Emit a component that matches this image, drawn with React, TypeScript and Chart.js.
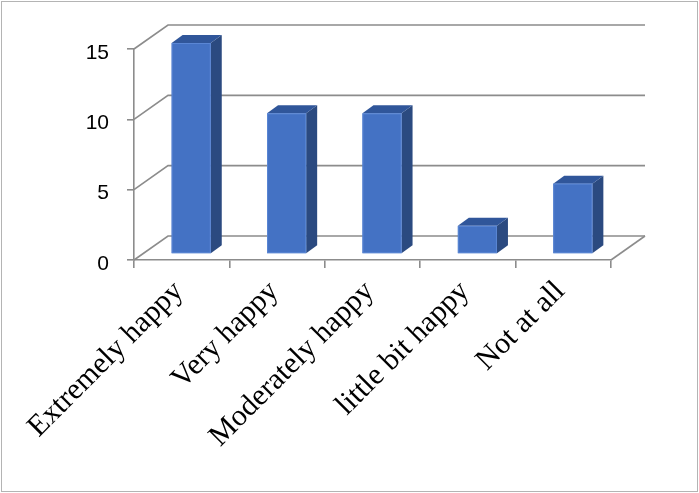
import React, { useEffect, useRef } from "react";
import { Chart, registerables } from "chart.js";

Chart.register(...registerables);

const categories = ["Extremely happy", "Very happy", "Moderately happy", "little bit happy", "Not at all"];
const values = [15, 10, 10, 2, 5];
const yTicks = [0, 5, 10, 15];

const WALL_DX = 34;
const WALL_DY = -24;
const FRONT_DX = 9.5;
const FRONT_DY = -6;
const BAR_DX = 11;
const BAR_DY = -8;
const GRID = "#8c8c8c";

const threeD = {
  id: "threeD",
  beforeDraw(chart: any) {
    const ctx = chart.ctx;
    ctx.save();
    ctx.fillStyle = "#ffffff";
    ctx.fillRect(0, 0, chart.width, chart.height);
    ctx.strokeStyle = "#b4b4b4";
    ctx.lineWidth = 1;
    ctx.strokeRect(1.5, 1.5, chart.width - 3, chart.height - 3);
    ctx.restore();
  },
  beforeDatasetsDraw(chart: any) {
    const ctx = chart.ctx;
    const ys = chart.scales.y;
    const { left, right, bottom } = chart.chartArea;
    ctx.save();
    ctx.strokeStyle = GRID;
    ctx.lineWidth = 1.6;
    yTicks.forEach((v) => {
      const y = ys.getPixelForValue(v);
      ctx.beginPath();
      ctx.moveTo(left, y);
      ctx.lineTo(left + WALL_DX, y + WALL_DY);
      ctx.lineTo(right + WALL_DX, y + WALL_DY);
      ctx.stroke();
    });
    ctx.beginPath();
    ctx.moveTo(right, bottom);
    ctx.lineTo(right + WALL_DX, bottom + WALL_DY);
    ctx.stroke();
    ctx.restore();
  },
  afterDatasetsDraw(chart: any) {
    const ctx = chart.ctx;
    const meta = chart.getDatasetMeta(0);
    ctx.save();
    meta.data.forEach((el: any) => {
      const { x, y, base, width } = el.getProps(["x", "y", "base", "width"], true);
      const l = x - width / 2 + FRONT_DX;
      const r = x + width / 2 + FRONT_DX;
      const t = y + FRONT_DY;
      const b = base + FRONT_DY;
      ctx.fillStyle = "#2b4a80";
      ctx.beginPath();
      ctx.moveTo(r, t);
      ctx.lineTo(r + BAR_DX, t + BAR_DY);
      ctx.lineTo(r + BAR_DX, b + BAR_DY);
      ctx.lineTo(r, b);
      ctx.closePath();
      ctx.fill();
      ctx.fillStyle = "#30569a";
      ctx.beginPath();
      ctx.moveTo(l, t);
      ctx.lineTo(l + BAR_DX, t + BAR_DY);
      ctx.lineTo(r + BAR_DX, t + BAR_DY);
      ctx.lineTo(r, t);
      ctx.closePath();
      ctx.fill();
      ctx.fillStyle = "#4472c4";
      ctx.fillRect(l, t, r - l, b - t);
      ctx.strokeStyle = "#5a86d4";
      ctx.lineWidth = 1;
      ctx.strokeRect(l + 0.5, t + 0.5, r - l - 1, b - t - 1);
    });
    ctx.restore();
  },
};

export default function App() {
  const ref = useRef<HTMLCanvasElement | null>(null);
  useEffect(() => {
    if (!ref.current) return;
    const chart = new Chart(ref.current, {
      type: "bar",
      data: {
        labels: categories,
        datasets: [
          {
            data: values,
            backgroundColor: "rgba(0,0,0,0)",
            borderWidth: 0,
            barPercentage: 0.41,
            categoryPercentage: 1,
          },
        ],
      },
      options: {
        animation: false,
        responsive: true,
        maintainAspectRatio: false,
        layout: { padding: { top: 49, right: 88, left: 0, bottom: 0 } },
        plugins: { legend: { display: false }, tooltip: { enabled: false } },
        scales: {
          x: {
            offset: true,
            afterFit: (s: any) => {
              s.height = 233;
            },
            grid: {
              offset: true,
              drawOnChartArea: false,
              drawTicks: true,
              tickLength: 8,
              color: GRID,
              lineWidth: 1.6,
            },
            border: { display: true, color: GRID, width: 1.6 },
            ticks: {
              autoSkip: false,
              maxRotation: 45,
              minRotation: 45,
              color: "#000000",
              padding: 6,
              labelOffset: -3,
              font: { family: "'Liberation Serif', 'Times New Roman', serif", size: 30 },
            },
          },
          y: {
            min: 0,
            max: 15,
            afterFit: (s: any) => {
              s.width = 134;
            },
            grid: {
              drawOnChartArea: false,
              drawTicks: true,
              tickLength: 7,
              color: GRID,
              lineWidth: 1.6,
            },
            border: { display: true, color: GRID, width: 1.6 },
            ticks: {
              stepSize: 5,
              color: "#000000",
              padding: 18,
              labelOffset: 4,
              font: { family: "'Liberation Sans', Arial, sans-serif", size: 21 },
            },
          },
        },
      },
      plugins: [threeD],
    });
    return () => chart.destroy();
  }, []);
  return (
    <div style={{ position: "absolute", left: 0, top: 0, width: 699, height: 493 }}>
      <canvas ref={ref} />
    </div>
  );
}
